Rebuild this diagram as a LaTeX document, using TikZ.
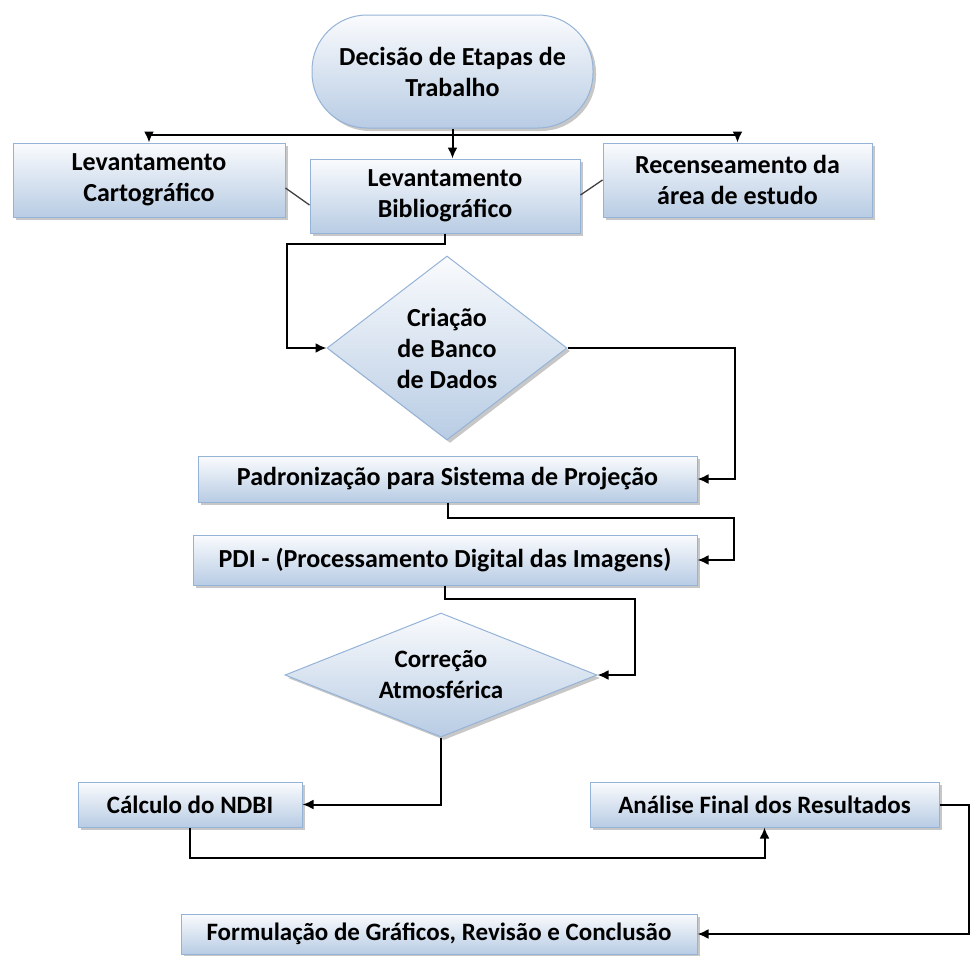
\documentclass[tikz,border=0pt]{standalone}
\usepackage{fontspec}
\setmainfont{Carlito}
\usetikzlibrary{arrows.meta,shapes.geometric,shadows,calc}
\definecolor{boxblue}{RGB}{184,204,228}
\definecolor{boxtop}{RGB}{250,251,253}
\definecolor{boxline}{RGB}{149,179,215}
\begin{document}
\begin{tikzpicture}[x=1pt,y=-1pt,
  box/.style={draw=boxline, line width=1pt, top color=boxtop, bottom color=boxblue,
    drop shadow={shadow xshift=3pt, shadow yshift=-3pt, fill=black, opacity=0.22},
    align=center, inner sep=2pt, font=\fontsize{26}{31}\selectfont\bfseries},
  lowbox/.style={box, font=\fontsize{25}{30}\selectfont\bfseries},
  dia/.style={box, shape=diamond, inner sep=0pt},
  arr/.style={draw=black, line width=2pt, -{Latex[length=11pt,width=10pt]}},
  thin/.style={draw=black!75, line width=1.3pt}]
\useasboundingbox (0,0) rectangle (970,956);

\node[box, rounded corners=55pt, minimum width=281pt, minimum height=113pt] (term) at (452.5,71.5) {Decisão de Etapas de\\Trabalho};

\node[box, minimum width=272pt, minimum height=74pt] (lc) at (149,180) {Levantamento\\Cartográfico};
\node[box, minimum width=270pt, minimum height=74pt] (lb) at (445,196) {Levantamento\\Bibliográfico};
\node[box, minimum width=269pt, minimum height=74pt] (ra) at (737.5,180) {Recenseamento da\\área de estudo};

\node[dia, aspect=1.3, minimum width=240pt, minimum height=184pt] (d1) at (447,348) {Criação\\de Banco\\de Dados};

\node[box, minimum width=499pt, minimum height=46pt] (pad) at (447.5,479) {Padronização para Sistema de Projeção};
\node[box, minimum width=504pt, minimum height=50pt] (pdi) at (445,560) {PDI - (Processamento Digital das Imagens)};

\node[dia, aspect=2.5, minimum width=312pt, minimum height=124pt, font=\fontsize{25}{31}\selectfont\bfseries] (d2) at (441,675) {Correção\\Atmosférica};

\node[lowbox, minimum width=224pt, minimum height=45pt] (calc) at (190,804.5) {Cálculo do NDBI};
\node[lowbox, minimum width=349pt, minimum height=45pt] (anal) at (764.5,804.5) {Análise Final dos Resultados};
\node[lowbox, minimum width=516pt, minimum height=40pt] (form) at (439,934) {Formulação de Gráficos, Revisão e Conclusão};

% connectors
\coordinate (hub) at ($(term.south)+(0,6)$);
\draw[arr] (term.south) -- (term.south |- lb.north);
\draw[arr] (hub) -| (lc.north);
\draw[arr] (hub) -| (ra.north);
\draw[thin] ($(lc.east)+(0,8)$) -- ($(lb.west)+(0,9)$);
\draw[thin] ($(lb.east)+(0,-1)$) -- (ra.west);

\draw[arr] (lb.south) -- ($(lb.south)+(0,10)$) -| ($(d1.west)+(-40,0)$) -- (d1.west);
\draw[arr] (d1.east) -| ($(pad.east)+(37,0)$) -- (pad.east);
\draw[arr] (pad.south) -- ($(pad.south)+(0,15)$) -| ($(pdi.east)+(36,0)$) -- (pdi.east);
\draw[arr] (pdi.south) -- ($(pdi.south)+(0,13)$) -| ($(d2.east)+(37,0)$) -- (d2.east);
\draw[arr] (d2.south) |- (calc.east);
\draw[arr] (calc.south) -- ($(calc.south)+(0,30)$) -| (anal.south);
\draw[arr] (anal.east) -- ($(anal.east)+(29,0)$) |- (form.east);
\end{tikzpicture}
\end{document}
